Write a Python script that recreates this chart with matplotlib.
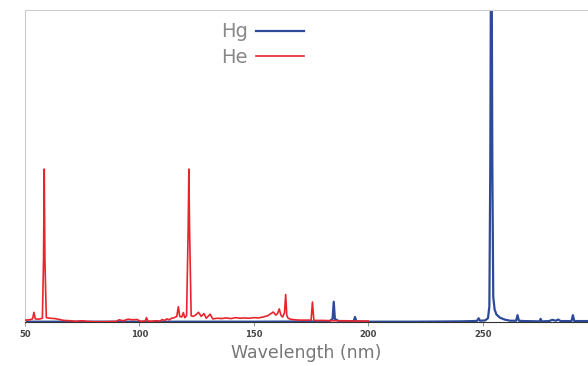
import matplotlib
matplotlib.use("Agg")
import matplotlib.pyplot as plt

he_wl = [50, 52, 53.3, 53.9, 54.5, 56, 57.6, 58.1, 58.4, 58.7, 59.3, 61, 63, 65, 67,
         70, 72, 75, 77, 80, 85, 90, 91, 93, 95, 97, 99, 100.5, 102.5, 103.1, 103.7,
         105, 107, 109, 110, 111, 112, 113, 114, 115, 116.3, 117.0, 117.6, 118.5,
         119.2, 119.8, 120.6, 121.3, 121.6, 121.9, 122.6, 123.5, 124.5, 125.8, 127,
         128.2, 129.2, 130.9, 132, 134, 136, 138, 140, 142, 144, 146, 148, 150, 152,
         154, 156, 157.5, 158.5, 159.6, 160.4, 161.1, 161.8, 162.6, 163.4, 163.9,
         164.4, 165, 166, 168, 170, 172, 175.0, 175.6, 176.2, 177, 180, 185, 190,
         195, 200]
he_int = [0.006, 0.007, 0.010, 0.031, 0.010, 0.009, 0.012, 0.20, 0.49, 0.20, 0.014,
          0.012, 0.011, 0.008, 0.005, 0.004, 0.002, 0.004, 0.002, 0.001, 0.001, 0.002,
          0.007, 0.004, 0.009, 0.007, 0.008, 0.002, 0.003, 0.014, 0.003, 0.002, 0.004,
          0.003, 0.008, 0.005, 0.010, 0.007, 0.012, 0.013, 0.018, 0.049, 0.018, 0.016,
          0.030, 0.014, 0.020, 0.30, 0.49, 0.30, 0.020, 0.018, 0.022, 0.031, 0.018,
          0.027, 0.012, 0.025, 0.010, 0.012, 0.011, 0.013, 0.011, 0.014, 0.012, 0.013,
          0.012, 0.014, 0.013, 0.016, 0.020, 0.027, 0.032, 0.022, 0.028, 0.042, 0.022,
          0.016, 0.030, 0.088, 0.020, 0.012, 0.009, 0.007, 0.006, 0.006, 0.006, 0.064,
          0.006, 0.005, 0.005, 0.004, 0.004, 0.003, 0.003]

# Hg spectrum
hg_wl = [50, 100, 150, 183, 184.4, 184.9, 185.4, 187, 193.6, 194.2, 194.8, 200, 220,
         240, 246, 247.6, 248.2, 248.8, 251, 252.3, 252.9, 253.3, 253.55, 253.95,
         254.2, 254.6, 255.2, 256, 257.5, 259.5, 262, 264.6, 265.2, 265.8, 268, 274.8,
         275.3, 275.8, 279, 280.4, 282, 283, 284, 288.8, 289.4, 290, 293, 296]
hg_int = [0.001, 0.001, 0.001, 0.002, 0.010, 0.065, 0.010, 0.003, 0.002, 0.016, 0.002,
          0.001, 0.001, 0.002, 0.003, 0.004, 0.012, 0.004, 0.005, 0.012, 0.05, 0.5,
          1.05, 1.05, 0.5, 0.08, 0.04, 0.024, 0.014, 0.008, 0.004, 0.004, 0.022, 0.004,
          0.003, 0.002, 0.010, 0.002, 0.003, 0.007, 0.004, 0.008, 0.003, 0.003, 0.022,
          0.003, 0.003, 0.003]

x_ticks = [50, 100, 150, 200, 250]

fig = plt.figure(figsize=(5.88, 3.66), dpi=100)
ax = fig.add_axes([25 / 588, 1 - 322 / 366, 1 - 25 / 588, 312 / 366])

ax.plot(hg_wl, hg_int, color="#2c4a98", lw=1.6, label="Hg", zorder=2)
ax.plot(he_wl, he_int, color="#e8252d", lw=1.2, label="He", zorder=3)

ax.set_xlim(50, 296)
ax.set_ylim(0, 1.0)
ax.set_yticks([])
ax.set_xticks(x_ticks)
ax.tick_params(axis="x", length=3, width=0.8, color="#999999", labelsize=6,
               labelcolor="#444444", pad=3)
for lab in ax.get_xticklabels():
    lab.set_fontweight("bold")

ax.spines["right"].set_visible(False)
ax.spines["left"].set_color("#cccccc")
ax.spines["top"].set_color("#cccccc")
ax.spines["bottom"].set_color("#333333")
ax.spines["bottom"].set_linewidth(0.8)

ax.set_xlabel("Wavelength (nm)", fontsize=12.5, color="#777777", labelpad=3)

leg = ax.legend(loc="upper right", bbox_to_anchor=(0.51, 0.985), frameon=False,
                markerfirst=False, fontsize=14, handlelength=2.5, handletextpad=0.4,
                labelspacing=0.35, borderaxespad=0)
for t in leg.get_texts():
    t.set_color("#888888")

fig.savefig("out.png", dpi=100)
